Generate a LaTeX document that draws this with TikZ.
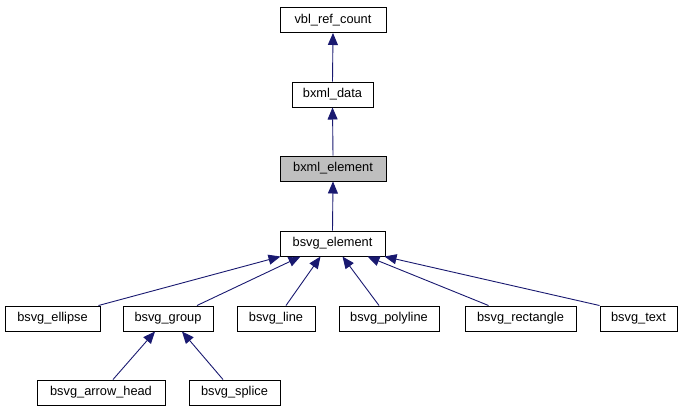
\documentclass[tikz,border=0pt]{standalone}
\usepackage{fontspec}
\setmainfont{Liberation Sans}
\usetikzlibrary{arrows.meta}
\definecolor{edgeblue}{RGB}{25,25,112}
\definecolor{curgray}{RGB}{191,191,191}
\begin{document}
\begin{tikzpicture}[x=1pt,y=-1pt,
  cls/.style={draw=black,line width=1pt,fill=white,minimum height=25pt,inner sep=0pt,
    font=\fontsize{12.8}{14}\selectfont},
  inh/.style={draw=edgeblue,line width=0.9pt,-{Triangle[length=12pt,width=10pt]}}]
\useasboundingbox (0,0) rectangle (682,410);
\node[cls,minimum width=106pt] (vbl) at (333,20) {vbl\_ref\_count};
\node[cls,minimum width=81pt] (data) at (332.5,94.5) {bxml\_data};
\node[cls,minimum width=106pt,fill=curgray] (xel) at (333,168.5) {bxml\_element};
\node[cls,minimum width=105pt] (sel) at (332.5,243.5) {bsvg\_element};
\node[cls,minimum width=95pt] (ell) at (52.5,318.5) {bsvg\_ellipse};
\node[cls,minimum width=90pt] (grp) at (168,318.5) {bsvg\_group};
\node[cls,minimum width=78pt] (lin) at (276,318.5) {bsvg\_line};
\node[cls,minimum width=100pt] (pol) at (389,318.5) {bsvg\_polyline};
\node[cls,minimum width=111pt] (rec) at (520.5,318.5) {bsvg\_rectangle};
\node[cls,minimum width=77pt] (txt) at (638.5,318.5) {bsvg\_text};
\node[cls,minimum width=128pt] (arh) at (101,392.5) {bsvg\_arrow\_head};
\node[cls,minimum width=91pt] (spl) at (234.5,392.5) {bsvg\_splice};
\draw[inh] (data.north) -- (vbl.south);
\draw[inh] (xel.north) -- (data.south);
\draw[inh] (sel.north) -- (xel.south);
\draw[inh] ([xshift=-2pt]ell.north east) -- ([xshift=-52pt]sel.south);
\draw[inh] ([xshift=29pt]grp.north) -- ([xshift=-32pt]sel.south);
\draw[inh] ([xshift=10pt]lin.north) -- ([xshift=-12pt]sel.south);
\draw[inh] ([xshift=-10pt]pol.north) -- ([xshift=10pt]sel.south);
\draw[inh] ([xshift=-32pt]rec.north) -- ([xshift=35pt]sel.south);
\draw[inh] (txt.north west) -- ([xshift=-1pt]sel.south east);
\draw[inh] ([xshift=12pt]arh.north) -- ([xshift=-13pt]grp.south);
\draw[inh] ([xshift=-11.5pt]spl.north) -- ([xshift=14pt]grp.south);
\end{tikzpicture}
\end{document}
